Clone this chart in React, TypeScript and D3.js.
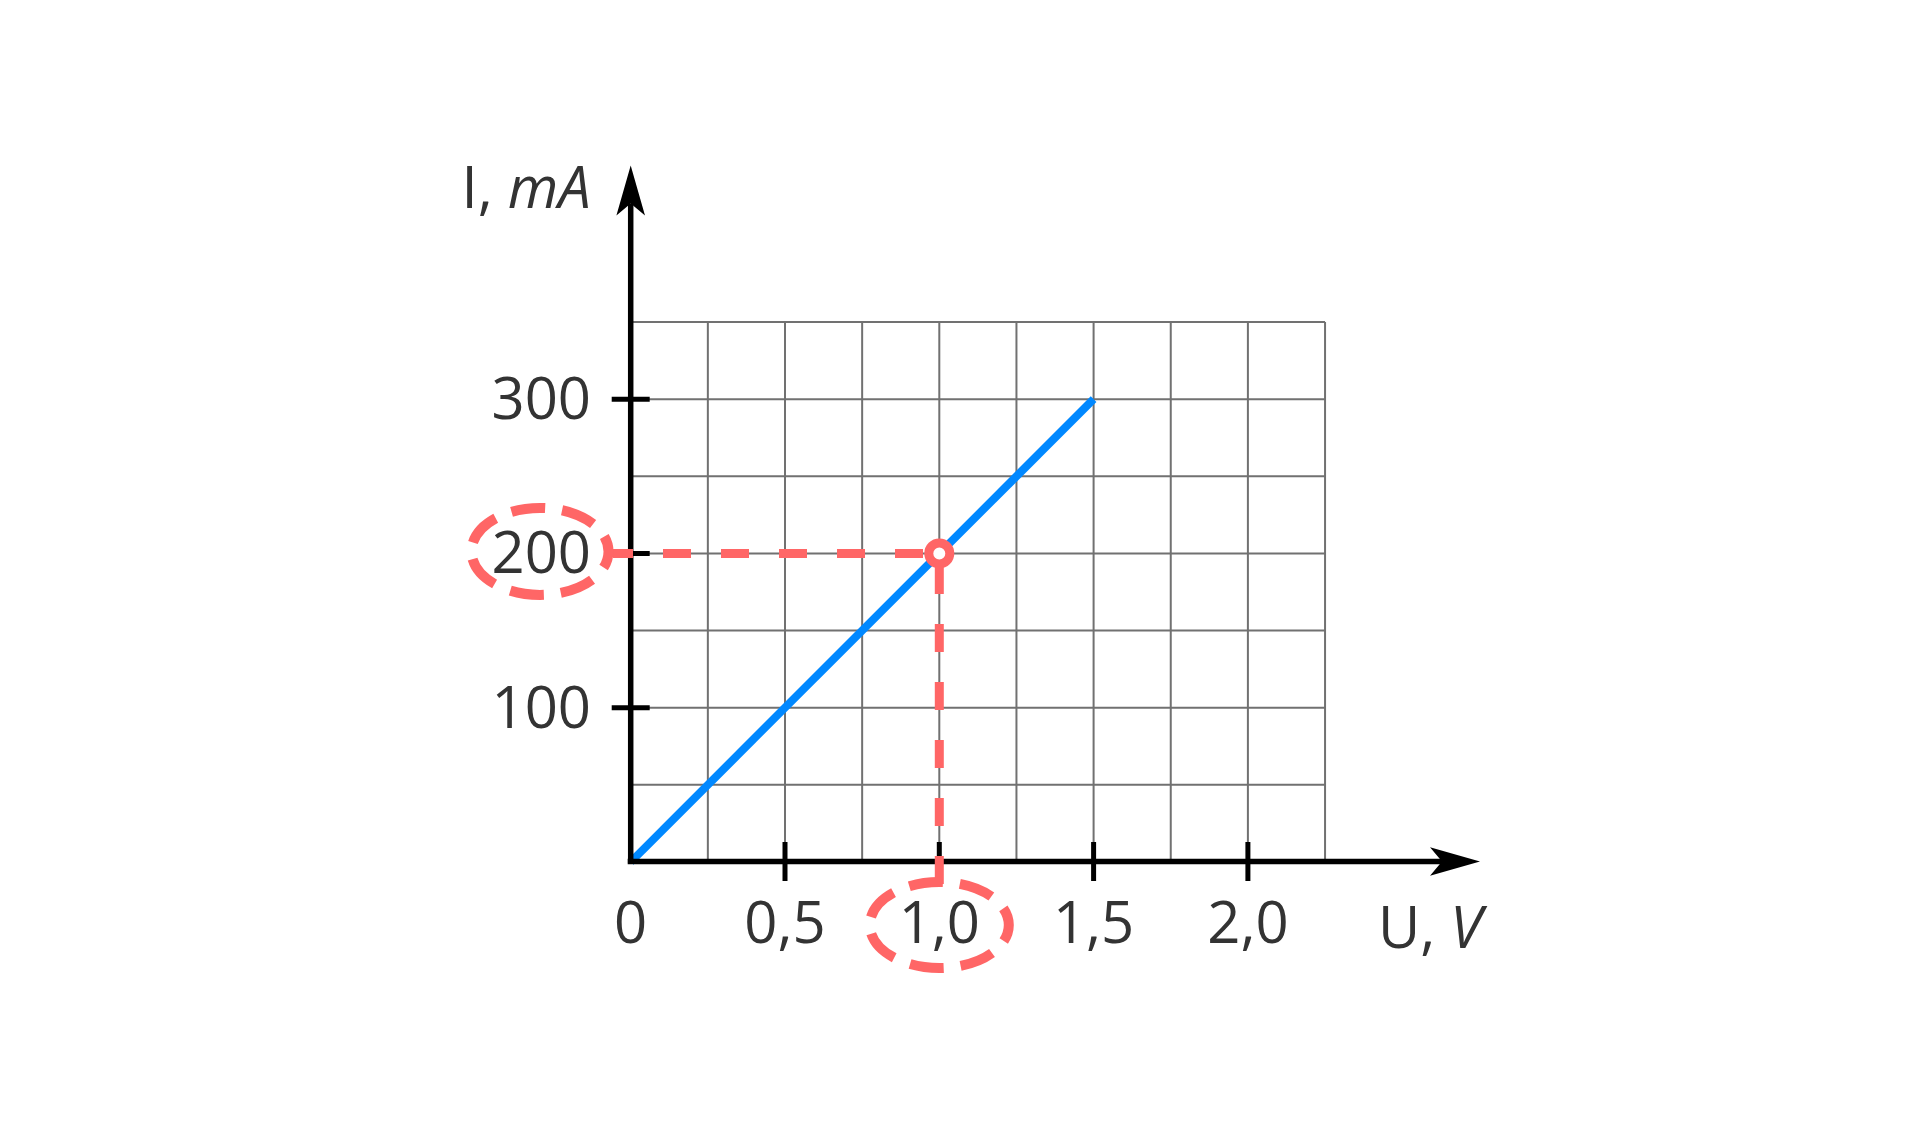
import React from "react";
import * as d3 from "d3";

// ---- data ----
const xTicks = [0.5, 1.0, 1.5, 2.0];
const xTickLabels = ["0,5", "1,0", "1,5", "2,0"];
const yTicks = [100, 200, 300];
const yTickLabels = ["100", "200", "300"];
const xGridValues = [0, 0.25, 0.5, 0.75, 1.0, 1.25, 1.5, 1.75, 2.0, 2.25];
const yGridValues = [0, 50, 100, 150, 200, 250, 300, 350];
const lineU = [0, 1.5];
const lineI = [0, 300];
const markU = 1.0;
const markI = 200;
const markULabel = "1,0";
const markILabel = "200";

const W = 1920;
const H = 1124;
const RED = "#ff6666";
const BLUE = "#0088ff";
const TXT = "#333333";
const FONT = "'Open Sans', 'Noto Sans', sans-serif";
const FS = 58;

export default function App() {
  const x = d3.scaleLinear().domain([0, 2.25]).range([630.7, 630.7 + 694.35]);
  const y = d3.scaleLinear().domain([0, 350]).range([862, 862 - 540]);

  const x0 = x(0);
  const y0 = y(0);
  const axisW = 5.5;

  const lineGen = d3
    .line<number>()
    .x((d, i) => x(lineU[i]))
    .y((d, i) => y(lineI[i]));

  const px = x(markU);
  const py = y(markI);

  // ellipse around y label
  const e1 = { cx: 540, cy: py - 2, rx: 68.5, ry: 43.5 };
  // ellipse around x label
  const e2 = { cx: px, cy: 925, rx: 69.5, ry: 43 };

  const hStart = e1.cx + e1.rx + 4.5;
  const vEnd = e2.cy - e2.ry + 2;

  // arrows
  const yTip = 165.5;
  const xTip = 1480;
  const aLen = 50;
  const aHalf = 14.3;
  const aNotch = 12;

  return (
    <svg width={W} height={H} style={{ display: "block", position: "absolute", left: 0, top: 0 }}>
      <rect width={W} height={H} fill="#ffffff" />
      {/* grid */}
      <g stroke="#717171" strokeWidth={2}>
        {xGridValues.map((v) => (
          <line key={"gx" + v} x1={x(v)} x2={x(v)} y1={y(0)} y2={y(350)} />
        ))}
        {yGridValues.map((v) => (
          <line key={"gy" + v} x1={x(0)} x2={x(2.25)} y1={y(v)} y2={y(v)} />
        ))}
      </g>

      {/* blue line */}
      <path d={lineGen(lineI) || ""} fill="none" stroke={BLUE} strokeWidth={8} />

      {/* axes */}
      <g fill="#000" stroke="none">
        <line x1={x0} x2={x0} y1={y0 + 1} y2={yTip + aLen - aNotch} stroke="#000" strokeWidth={axisW} />
        <line x1={x0 - 3} x2={xTip - aLen + aNotch} y1={y0 - 0.5} y2={y0 - 0.5} stroke="#000" strokeWidth={axisW} />
        <path
          d={`M${x0},${yTip} L${x0 + aHalf},${yTip + aLen} L${x0},${yTip + aLen - aNotch} L${x0 - aHalf},${yTip + aLen} Z`}
        />
        <path
          d={`M${xTip},${y0 - 0.5} L${xTip - aLen},${y0 - 0.5 - aHalf} L${xTip - aLen + aNotch},${y0 - 0.5} L${xTip - aLen},${y0 - 0.5 + aHalf} Z`}
        />
      </g>

      {/* ticks */}
      <g stroke="#000" strokeWidth={5}>
        {xTicks.map((v) => (
          <line key={"tx" + v} x1={x(v)} x2={x(v)} y1={y0 - 20} y2={y0 + 19} />
        ))}
        {yTicks.map((v) => (
          <line key={"ty" + v} x1={x0 - 19} x2={x0 + 19} y1={y(v)} y2={y(v)} />
        ))}
      </g>

      {/* tick labels */}
      <g fill={TXT} fontFamily={FONT} fontSize={FS}>
        <text x={x0} y={943} textAnchor="middle">0</text>
        {xTicks.map((v, i) => (
          <text key={"lx" + v} x={x(v)} y={943} textAnchor="middle">
            {xTickLabels[i]}
          </text>
        ))}
        {yTicks.map((v, i) => (
          <text key={"ly" + v} x={591} y={y(v) + 20} textAnchor="end">
            {yTickLabels[i]}
          </text>
        ))}
        <text x={461.5} y={208}>
          I, <tspan fontStyle="italic">mA</tspan>
        </text>
        <text x={1378} y={948}>
          U, <tspan fontStyle="italic">V</tspan>
        </text>
      </g>

      {/* highlight */}
      <g stroke={RED} strokeWidth={9} fill="none">
        <line x1={hStart} x2={px} y1={py} y2={py} strokeDasharray="28 30" strokeDashoffset={8} />
        <line x1={px} x2={px} y1={vEnd} y2={py} strokeDasharray="28 30" />
        <ellipse cx={e1.cx} cy={e1.cy} rx={e1.rx} ry={e1.ry} strokeWidth={10} strokeDasharray="34 17" strokeDashoffset={17} />
        <ellipse cx={e2.cx} cy={e2.cy} rx={e2.rx} ry={e2.ry} strokeWidth={10} strokeDasharray="34 17" strokeDashoffset={17} />
        <circle cx={px} cy={py} r={10.5} fill="#ffffff" />
      </g>
      <title>{`${markULabel} V, ${markILabel} mA`}</title>
    </svg>
  );
}
